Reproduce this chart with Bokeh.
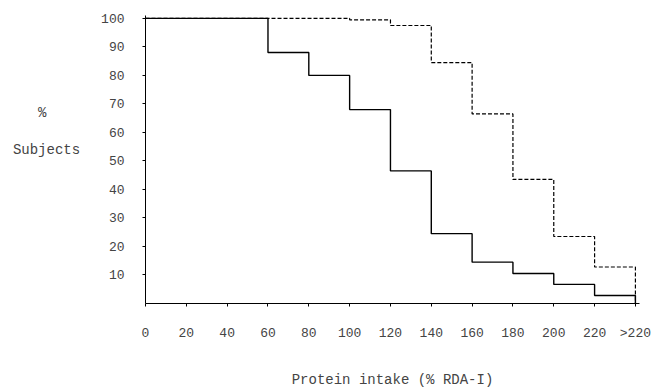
from bokeh.plotting import figure
from bokeh.models import Range1d, FixedTicker
from bokeh.embed import file_html
from bokeh.resources import INLINE

# Data
bin_edges = [0, 20, 40, 60, 80, 100, 120, 140, 160, 180, 200, 220, 240]
solid_pct = [100, 100, 100, 88, 80, 68, 46.5, 24.5, 14.5, 10.5, 6.7, 2.8]
dashed_pct = [100, 100, 100, 100, 100, 99.5, 97.5, 84.5, 66.5, 43.5, 23.5, 12.8]
x_ticks = [0, 20, 40, 60, 80, 100, 120, 140, 160, 180, 200, 220, 240]
x_tick_labels = ["0", "20", "40", "60", "80", "100", "120", "140", "160", "180", "200", "220", ">220"]
y_ticks = [10, 20, 30, 40, 50, 60, 70, 80, 90, 100]
x_title = "Protein intake (% RDA-I)"
y_title_lines = ["%\u00a0\u00a0\u00a0\u00a0", "", "", "", "Subjects", "", "", "", "", "", ""]

FONT = "Liberation Mono"
FS = "13px"
FS_TITLE = "14px"

p = figure(width=654, height=390, output_backend="svg", toolbar_location=None,
           x_range=Range1d(0, 242), y_range=Range1d(0, 101),
           min_border_left=145, min_border_right=15, min_border_top=15, min_border_bottom=86)
p.xgrid.visible = False
p.ygrid.visible = False
p.outline_line_color = None
p.background_fill_color = "white"
p.border_fill_color = "white"

p.step(bin_edges, solid_pct + [0], mode="after", line_color="black", line_width=1.4)
p.step(bin_edges, dashed_pct + [0], mode="after", line_color="black", line_width=1.2,
       line_dash="4 2")

xa = p.xaxis[0]
xa.ticker = FixedTicker(ticks=x_ticks)
xa.major_label_overrides = {t: l for t, l in zip(x_ticks, x_tick_labels)}
xa.minor_tick_line_color = None
xa.major_tick_out = 3
xa.major_tick_in = 0
xa.major_label_standoff = 19
xa.axis_label = x_title
xa.axis_label_standoff = 28
xa.axis_label_text_font = FONT
xa.axis_label_text_font_size = FS_TITLE
xa.axis_label_text_font_style = "normal"
xa.axis_label_text_line_height = 0.8
xa.major_label_text_font = FONT
xa.major_label_text_font_size = FS
xa.axis_line_color = "black"

ya = p.yaxis[0]
ya.ticker = FixedTicker(ticks=y_ticks)
ya.minor_tick_line_color = None
ya.major_tick_out = 3
ya.major_tick_in = 0
ya.major_label_standoff = 18
ya.major_label_text_font = FONT
ya.major_label_text_font_size = FS
ya.axis_line_color = "black"
ya.axis_label = "\n".join(y_title_lines)
ya.axis_label_orientation = "horizontal"
ya.axis_label_standoff = 18
ya.axis_label_text_font = FONT
ya.axis_label_text_font_size = FS_TITLE
ya.axis_label_text_font_style = "normal"
ya.axis_label_text_line_height = 0.58

open("out.html", "w").write(file_html(p, INLINE))
